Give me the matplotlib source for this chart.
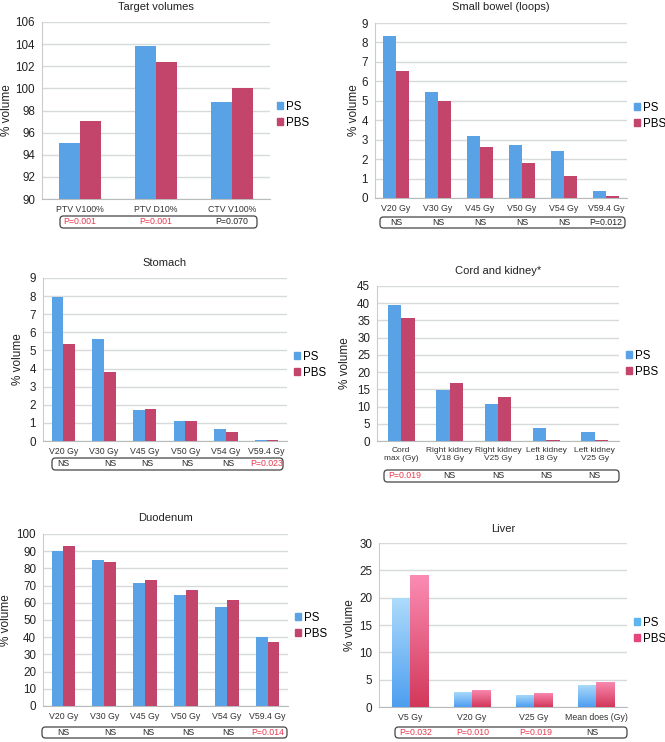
import numpy as np
import matplotlib
matplotlib.use("Agg")
import matplotlib.pyplot as plt
from matplotlib.patches import FancyBboxPatch, Patch
from matplotlib import transforms
from matplotlib.colors import LinearSegmentedColormap

plt.rcParams['font.family'] = ['Liberation Sans', 'DejaVu Sans']

# ---------------- data ----------------
series_names = ["PS", "PBS"]

tv_cats = ["PTV V100%", "PTV D10%", "CTV V100%"]
tv_ps = [95.1, 103.8, 98.8]
tv_pbs = [97.05, 102.4, 100.0]
tv_p = ["P=0.001", "P=0.001", "P=0.070"]
tv_sig = [True, True, False]

sb_cats = ["V20 Gy", "V30 Gy", "V45 Gy", "V50 Gy", "V54 Gy", "V59.4 Gy"]
sb_ps = [8.35, 5.47, 3.2, 2.72, 2.42, 0.37]
sb_pbs = [6.55, 5.0, 2.6, 1.78, 1.15, 0.1]
sb_p = ["NS", "NS", "NS", "NS", "NS", "P=0.012"]
sb_sig = [False, False, False, False, False, False]

st_cats = ["V20 Gy", "V30 Gy", "V45 Gy", "V50 Gy", "V54 Gy", "V59.4 Gy"]
st_ps = [7.97, 5.62, 1.72, 1.1, 0.65, 0.08]
st_pbs = [5.33, 3.8, 1.75, 1.08, 0.5, 0.03]
st_p = ["NS", "NS", "NS", "NS", "NS", "P=0.023"]
st_sig = [False, False, False, False, False, True]

ck_cats = ["Cord\nmax (Gy)", "Right kidney\nV18 Gy", "Right kidney\nV25 Gy",
           "Left kidney\n18 Gy", "Left kidney\nV25 Gy"]
ck_ps = [39.5, 14.7, 10.8, 3.8, 2.7]
ck_pbs = [35.7, 16.7, 12.7, 0.4, 0.3]
ck_p = ["P=0.019", "NS", "NS", "NS", "NS"]
ck_sig = [True, False, False, False, False]

du_cats = ["V20 Gy", "V30 Gy", "V45 Gy", "V50 Gy", "V54 Gy", "V59.4 Gy"]
du_ps = [90.3, 84.7, 71.5, 64.7, 57.5, 40.2]
du_pbs = [93.3, 84.0, 73.5, 67.5, 61.8, 37.5]
du_p = ["NS", "NS", "NS", "NS", "NS", "P=0.014"]
du_sig = [False, False, False, False, False, True]

lv_cats = ["V5 Gy", "V20 Gy", "V25 Gy", "Mean does (Gy)"]
lv_ps = [20.0, 2.75, 2.25, 4.05]
lv_pbs = [24.1, 3.2, 2.6, 4.65]
lv_p = ["P=0.032", "P=0.010", "P=0.019", "NS"]
lv_sig = [True, True, True, False]

W, H = 665, 742
fig = plt.figure(figsize=(W / 100, H / 100), dpi=100)

BLUE = "#5aa2e6"
RED = "#c3456b"
GRID = "#d6dada"
RED_TXT = "#e8384e"


def px_rect(l, t, r, b):
    return [l / W, 1 - b / H, (r - l) / W, (b - t) / H]


def panel(rect, title, title_y, cats, ps, pbs, ylim, yticks, ylabel_x,
          pvals, sig, box, leg_y, bw=0.29, gradient=False, tick_fs=6.3,
          txt_dx=None):
    l, t, r, b = rect
    ax = fig.add_axes(px_rect(l, t, r, b))
    x = np.arange(len(cats))
    if gradient:
        b1 = ax.bar(x - bw / 2, ps, bw, color="none", bottom=ylim[0], zorder=3)
        b2 = ax.bar(x + bw / 2, pbs, bw, color="none", bottom=ylim[0], zorder=3)
        cm1 = LinearSegmentedColormap.from_list("g1", ["#4d9ef0", "#aedcfb"])
        cm2 = LinearSegmentedColormap.from_list("g2", ["#d2385a", "#fb8cb3"])
        grad = np.linspace(0, 1, 256).reshape(-1, 1)
        for bars, cm in ((b1, cm1), (b2, cm2)):
            for p in bars:
                x0, y0 = p.get_x(), p.get_y()
                w, h = p.get_width(), p.get_height()
                im = ax.imshow(grad, cmap=cm, origin="lower", aspect="auto",
                               extent=[x0, x0 + w, y0, y0 + h], zorder=3)
                im.set_clip_path(p)
        leg_cols = ["#5cb6f0", "#e8457c"]
    else:
        ax.bar(x - bw / 2, [v - ylim[0] for v in ps], bw, bottom=ylim[0],
               color=BLUE, zorder=3)
        ax.bar(x + bw / 2, [v - ylim[0] for v in pbs], bw, bottom=ylim[0],
               color=RED, zorder=3)
        leg_cols = [BLUE, RED]
    ax.set_xlim(-0.5, len(cats) - 0.5)
    ax.set_ylim(*ylim)
    ax.set_yticks(yticks)
    ax.set_yticklabels([str(v) for v in yticks], fontsize=8.4, color="#222222")
    ax.set_xticks(x)
    ax.set_xticklabels(cats, fontsize=tick_fs, color="#333333", linespacing=1.25)
    ax.tick_params(length=0, pad=4)
    ax.tick_params(axis="y", pad=5)
    ax.grid(axis="y", color=GRID, lw=1.0, zorder=0)
    for s in ("top", "right"):
        ax.spines[s].set_visible(False)
    ax.spines["left"].set_color("#c8cccc")
    ax.spines["bottom"].set_color("#b8bcbc")
    ax.set_facecolor("white")
    # y label
    fig.text(ylabel_x / W, 1 - ((t + b) / 2) / H, "% volume", rotation=90,
             ha="center", va="center", fontsize=8.5, color="#222222")
    # title
    fig.text(((l + r) / 2) / W, 1 - title_y / H, title, ha="center",
             va="center", fontsize=8, color="#222222")
    # legend
    handles = [Patch(color=c, label=n) for c, n in zip(leg_cols, series_names)]
    lx = (r + 7) / W
    ly = 1 - leg_y / H
    fig.legend(handles=handles, loc="center left", bbox_to_anchor=(lx, ly),
               frameon=False, fontsize=8.3, handlelength=0.55, handleheight=0.55,
               handletextpad=0.25, labelspacing=0.35, borderpad=0, borderaxespad=0)
    # p-value box
    bl, bt, br, bb = box
    fb = FancyBboxPatch((bl / W, 1 - bb / H), (br - bl) / W, (bb - bt) / H,
                        boxstyle="round,pad=0,rounding_size=0.005",
                        transform=fig.transFigure, fc="white", ec="#444444",
                        lw=0.9)
    fig.patches.append(fb)
    if txt_dx is None:
        txt_dx = [0] * len(cats)
    base = transforms.blended_transform_factory(ax.transData, fig.transFigure)
    for xi, txt, sg, dx in zip(x, pvals, sig, txt_dx):
        tr = base + transforms.ScaledTranslation(dx / 100, 0, fig.dpi_scale_trans)
        fig.text(xi, 1 - ((bt + bb) / 2) / H, txt, transform=tr,
                 ha="center", va="center", fontsize=6.3,
                 color=RED_TXT if sg else "#222222")
    return ax


panel((42, 22, 270, 199), "Target volumes", 7, tv_cats, tv_ps, tv_pbs,
      (90, 106), list(range(90, 107, 2)), 7, tv_p, tv_sig,
      (60, 216, 257, 228), 115, bw=0.28)

panel((375, 23, 627, 198), "Small bowel (loops)", 7, sb_cats, sb_ps, sb_pbs,
      (0, 9), list(range(0, 10)), 354, sb_p, sb_sig,
      (380, 217, 625, 228), 116, bw=0.30)

panel((43, 278, 287, 441), "Stomach", 263, st_cats, st_ps, st_pbs,
      (0, 9), list(range(0, 10)), 18, st_p, st_sig,
      (52, 458, 283, 470), 365, bw=0.29, txt_dx=[0, 6, 3, 2, 2, 0])

panel((377, 286, 619, 441), "Cord and kidney*", 271, ck_cats, ck_ps, ck_pbs,
      (0, 45), list(range(0, 46, 5)), 345, ck_p, ck_sig,
      (384, 470, 619, 482), 364, bw=0.275, tick_fs=6.0, txt_dx=[4, 0, 0, 0, 0])

panel((43, 534, 288, 706), "Duodenum", 518, du_cats, du_ps, du_pbs,
      (0, 100), list(range(0, 101, 10)), 6, du_p, du_sig,
      (42, 727, 287, 738), 626, bw=0.29, txt_dx=[0, 6, 3, 2, 2, 0])

panel((379, 543, 627, 707), "Liver", 529, lv_cats, lv_ps, lv_pbs,
      (0, 30), list(range(0, 31, 5)), 350, lv_p, lv_sig,
      (395, 727, 627, 738), 631, bw=0.295, gradient=True, txt_dx=[6, 1, 2, -4])

fig.savefig("out.png", dpi=100, facecolor="white")
